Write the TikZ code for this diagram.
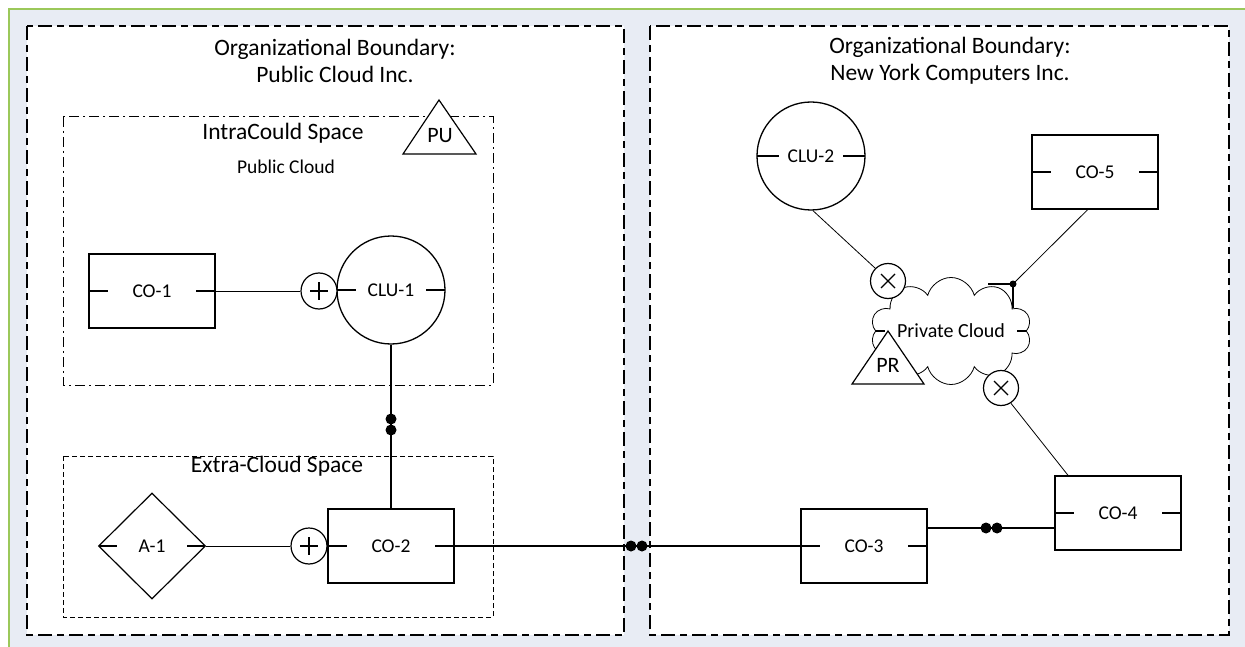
\documentclass[tikz,border=0pt]{standalone}
\usepackage{fontspec}
\setmainfont{Carlito}
\usetikzlibrary{shapes.geometric,shapes.symbols}
\definecolor{pagebg}{RGB}{232,236,244}
\definecolor{pagegreen}{RGB}{155,200,90}

\begin{document}
\begin{tikzpicture}[x=1pt,y=-1pt,
  stubs/.style={path picture={\draw[line width=1.2pt] (path picture bounding box.west) -- ++(#1,0) (path picture bounding box.east) -- ++(-#1,0);}},
  stubs/.default=19,
  lbl/.style={font=\fontsize{19.5}{23}\selectfont},
  comp/.style={draw,line width=1.3pt,fill=white,minimum width=126,minimum height=74,inner sep=0,lbl,stubs},
  clu/.style={draw,circle,line width=1.3pt,fill=white,minimum size=108,inner sep=0,lbl,stubs},
  plus/.style={draw,circle,line width=1.2pt,fill=white,minimum size=36,inner sep=0,
    path picture={\draw[line width=1.2pt] (path picture bounding box.center) +(-9,0) -- +(9,0) +(0,-9) -- +(0,9);}},
  cross/.style={draw,circle,line width=1.2pt,fill=white,minimum size=35,inner sep=0,
    path picture={\draw[line width=1.2pt] (path picture bounding box.center) +(-7,-7) -- +(7,7) +(-7,7) -- +(7,-7);}},
  dot/.style={circle,fill,inner sep=0,minimum size=11},
  conn/.style={line width=1.4pt},
  thin/.style={line width=0.8pt},
  orgbox/.style={line width=1.5pt,fill=white,dash pattern=on 14pt off 5pt on 7pt off 5pt},
  title/.style={align=center,font=\fontsize{23.5}{27}\selectfont},
  tri/.style={font=\fontsize{22}{26}\selectfont}]
  \useasboundingbox (0,0) rectangle (1245,647);
  \fill[pagebg] (9,9) rectangle (1245,647);
  \draw[pagegreen,line width=1.3pt] (9,647) -- (9,9) -- (1245,9);

  % organizations
  \draw[orgbox] (27,26) rectangle (624,635);
  \draw[orgbox] (650,26) rectangle (1229,635);
  \node[title] (tPub) at (335,61) {Organizational Boundary:\\Public Cloud Inc.};
  \node[title] (tNY) at (950,61) {Organizational Boundary:\\New York Computers Inc.};

  % spaces
  \draw[line width=1pt,dash pattern=on 10pt off 4pt on 2pt off 4pt] (63,117) rectangle (493,385);
  \draw[line width=1pt,dash pattern=on 5pt off 3pt] (63,456) rectangle (493,617);
  \node[title] (intra) at (283,133) {IntraCould Space};
  \node[lbl] (pubc) at (286,167) {Public Cloud};
  \node[title] (extra) at (277,466) {Extra-Cloud Space};
  \draw[line width=1.2pt,fill=white] (439,100) -- (403,154) -- (476,154) -- cycle;
  \node[tri] (PU) at (440,136) {PU};

  % nodes
  \node[comp] (CO1) at (152,291) {CO-1};
  \node[clu] (CLU1) at (391,290) {CLU-1};
  \node[plus] (P1) at (319,291) {};
  \node[draw,diamond,line width=1.2pt,fill=white,minimum width=107,minimum height=106,inner sep=0,lbl,stubs=18] (A1) at (152,546) {A-1};
  \node[comp] (CO2) at (391,546) {CO-2};
  \node[plus] (P2) at (309,546) {};
  \node[comp] (CO3) at (864,546) {CO-3};
  \node[comp] (CO4) at (1118,513) {CO-4};
  \node[comp] (CO5) at (1095,172) {CO-5};
  \node[clu,stubs=22] (CLU2) at (811,156) {CLU-2};
  \node[cloud,draw,cloud puffs=10,cloud ignores aspect,minimum width=161,minimum height=107,
    inner sep=0,thin,fill=white,stubs=14,font=\fontsize{20}{24}\selectfont] (PC) at (951,331) {Private Cloud};
  \draw[line width=1.2pt,fill=white] (888,331) -- (852,384) -- (924,384) -- cycle;
  \node[tri] (PR) at (888,365) {PR};
  \node[cross] (X1) at (888,281) {};
  \node[cross] (X2) at (1001,388) {};
  \coordinate (J) at (1013,284);

  % connectors
  \draw[line width=1pt] (CO1.east) -- (P1.west);
  \draw[line width=1pt] (A1.east) -- (P2.west);
  \draw[conn] (CLU1.south) -- (CO2.north);
  \draw[conn] (CO2.east) -- (CO3.west);
  \draw[conn] (CO3.east |- 0,528) -- (CO4.west |- 0,528);
  \draw[thin] (CLU2.272) -- (X1.135);
  \draw[thin] (CO5.259) -- (J);
  \draw[thin] (X2.303) -- (CO4.143);
  \draw[conn] (J) -- ++(-25,0) (J) -- ++(0,24);
  \node[dot,minimum size=7] (Jd) at (J) {};

  % double dots
  \foreach \y/\n in {419/v1,430/v2}{
    \node[dot] (\n) at (391,\y) {};
  }
  \foreach \x/\n in {631/m1,642/m2}{
    \node[dot] (\n) at (\x,546) {};
  }
  \foreach \x/\n in {986/r1,997/r2}{
    \node[dot] (\n) at (\x,528) {};
  }
\end{tikzpicture}
\end{document}
